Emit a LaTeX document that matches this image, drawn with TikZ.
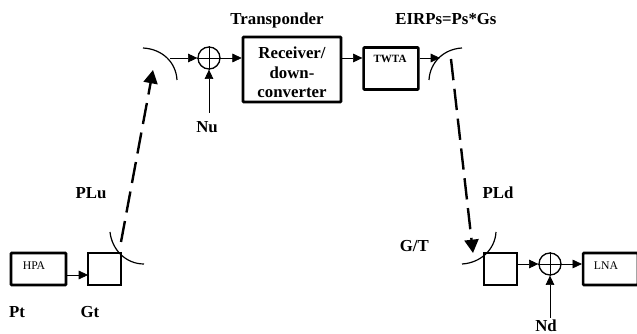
\documentclass[tikz,border=0pt]{standalone}
\usepackage{fontspec}
\setmainfont{Liberation Serif}
\usetikzlibrary{arrows.meta,positioning,calc}
\tikzset{
  thickbox/.style ={draw=black, line width=1.9pt, rounded corners=0.5pt, inner sep=0pt},
  plainbox/.style ={draw=black, line width=1.0pt, inner sep=0pt, minimum width=24.75pt, minimum height=24pt},
  sumnode/.style  ={draw=black, circle, line width=1.0pt, inner sep=0pt, minimum size=16.5pt},
  flowarr/.style  ={-{Triangle[length=7pt,width=6.5pt]}, line width=0.5pt},
  linkarr/.style  ={-{Triangle[length=10pt,width=10.5pt]}, line width=1.8pt, dash pattern=on 16pt off 6.5pt},
  dish/.style     ={line width=0.9pt},
  boldlab/.style  ={font=\fontsize{12.6}{14}\selectfont\bfseries, inner sep=0pt},
  tinylab/.style  ={font=\fontsize{8.8}{10}\selectfont, inner sep=0pt},
}
\begin{document}
\begin{tikzpicture}[x=0.75pt,y=-0.75pt]
    \useasboundingbox (0,0) rectangle (637,334);

    % Earth station, transmit side
    \node[thickbox,minimum width=41.25pt,minimum height=24pt] (hpa) at (38.5,269) {};
    \node[tinylab] (hpalab) at (34,266) {HPA};
    \node[plainbox] (gtbox) at (104.5,269) {};
    \coordinate (gtin) at (88,275);
    \draw[flowarr] (gtin -| hpa.east) -- (gtin);
    \draw[dish] (110,232) .. controls (112,250) and (126,264) .. (144,264);
    \node[boldlab] (ptlab) at (17,312) {Pt};
    \node[boldlab] (gtlab) at (90,312) {Gt};

    % Uplink
    \coordinate (upfrom) at (121,242);
    \coordinate (upto) at (153,70);
    \draw[linkarr] (upfrom) -- (upto);
    \node[boldlab] (plulab) at (91,193) {PLu};

    % Transponder
    \draw[dish] (143,48) .. controls (162,49) and (176,62) .. (177,80);
    \coordinate (rxdish) at (170,58);
    \node[sumnode] (sumu) at (209,58) {};
    \draw[line width=0.5pt] (sumu.north) -- (sumu.south) (sumu.west) -- (sumu.east);
    \node[thickbox,minimum width=73.5pt,minimum height=48.75pt] (rx) at (292,69.5) {};
    \node[boldlab,align=center,font=\fontsize{12.6}{14.6}\selectfont\bfseries] (rxlab) at (292,72.5)
      {Receiver/\\down-\\converter};
    \node[thickbox,minimum width=41pt,minimum height=31.5pt] (twta) at (391,68.5) {};
    \node[tinylab,font=\fontsize{8.3}{10}\selectfont\bfseries] (twtalab) at (390,59) {TWTA};
    \coordinate (nufoot) at (209,113);
    \draw[flowarr] (rxdish) -- (sumu);
    \draw[flowarr] (sumu) -- (sumu -| rx.west);
    \draw[flowarr] (nufoot) -- (sumu);
    \draw[flowarr] (sumu -| rx.east) -- (sumu -| twta.west);
    \coordinate (txdish) at (440,58);
    \draw[flowarr] (txdish -| twta.east) -- (txdish);
    \draw[dish] (429,80) .. controls (430,62) and (444,49) .. (462,48);
    \node[boldlab] (nulab) at (207,127) {Nu};
    \node[boldlab] (translab) at (277,20) {Transponder};
    \node[boldlab] (eirplab) at (446,19) {EIRPs=Ps*Gs};

    % Downlink
    \coordinate (downfrom) at (451,59);
    \coordinate (downto) at (473,253);
    \draw[linkarr] (downfrom) -- (downto);
    \node[boldlab] (pldlab) at (498,193) {PLd};

    % Earth station, receive side
    \draw[dish] (462,264) .. controls (480,263) and (495,250) .. (496,232);
    \node[boldlab,anchor=east] (gtratio) at (429,246) {G/T};
    \node[plainbox] (rxbox) at (500.5,269) {};
    \node[sumnode] (sumd) at (550,264) {};
    \draw[line width=0.5pt] (sumd.north) -- (sumd.south) (sumd.west) -- (sumd.east);
    \node[thickbox,minimum width=41pt,minimum height=24pt] (lna) at (610.5,269) {};
    \node[tinylab] (lnalab) at (606,266) {LNA};
    \coordinate (ndfoot) at (550,318);
    \draw[flowarr] (sumd -| rxbox.east) -- (sumd);
    \draw[flowarr] (sumd) -- (sumd -| lna.west);
    \draw[flowarr] (ndfoot) -- (sumd);
    \node[boldlab] (ndlab) at (546,326) {Nd};
\end{tikzpicture}
\end{document}
